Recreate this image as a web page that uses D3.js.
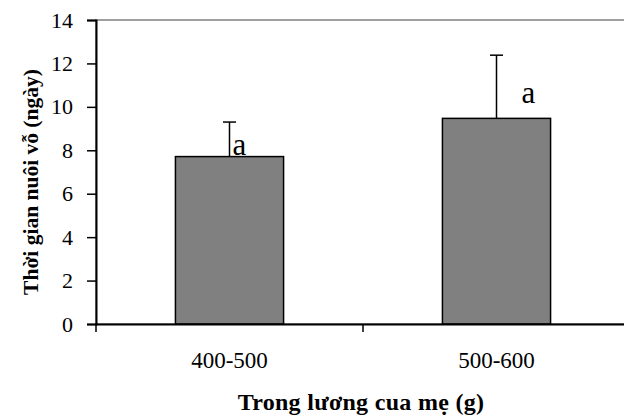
<!DOCTYPE html>
<html>
<head>
<meta charset="utf-8">
<script src="https://cdn.jsdelivr.net/npm/d3@7"></script>
<style>
  body { margin: 0; background: #fff; }
  svg text { font-family: "Liberation Serif", "Times New Roman", serif; fill: #000; }
</style>
</head>
<body>
<div id="chart"></div>
<script>
const categories = ["400-500", "500-600"];
const means = [7.71, 9.47];
const errors = [1.59, 2.91];
const letters = ["a", "a"];
const yTicks = [0, 2, 4, 6, 8, 10, 12, 14];

const margin = { top: 20, right: -6, bottom: 91, left: 96 };
const width = 624 - margin.left - margin.right;
const height = 415 - margin.top - margin.bottom;

const svg = d3.select("#chart")
  .append("svg")
    .attr("width", 624)
    .attr("height", 415)
  .append("g")
    .attr("transform", "translate(" + margin.left + "," + margin.top + ")");

const x = d3.scaleBand()
  .domain(categories)
  .range([0, width])
  .paddingInner(0.595)
  .paddingOuter(0.2975);

const y = d3.scaleLinear()
  .domain([0, 14])
  .range([height, 0]);

// plot frame (grey)
svg.append("rect")
  .attr("x", 0)
  .attr("y", 0)
  .attr("width", width)
  .attr("height", height)
  .attr("fill", "none")
  .attr("stroke", "#808080")
  .attr("stroke-width", 1.5);

// bars
svg.selectAll(".bar")
  .data(means)
  .enter()
  .append("rect")
    .attr("class", "bar")
    .attr("x", (d, i) => x(categories[i]))
    .attr("y", d => y(d))
    .attr("width", x.bandwidth())
    .attr("height", d => height - y(d))
    .attr("fill", "#808080")
    .attr("stroke", "#000")
    .attr("stroke-width", 1.5);

// error bars (upper only)
const cx = i => x(categories[i]) + x.bandwidth() / 2;
svg.selectAll(".err")
  .data(means)
  .enter()
  .append("line")
    .attr("x1", (d, i) => cx(i))
    .attr("x2", (d, i) => cx(i))
    .attr("y1", d => y(d))
    .attr("y2", (d, i) => y(d + errors[i]))
    .attr("stroke", "#000")
    .attr("stroke-width", 1.5);

svg.selectAll(".cap")
  .data(means)
  .enter()
  .append("line")
    .attr("x1", (d, i) => cx(i) - 6.5)
    .attr("x2", (d, i) => cx(i) + 6.5)
    .attr("y1", (d, i) => y(d + errors[i]))
    .attr("y2", (d, i) => y(d + errors[i]))
    .attr("stroke", "#000")
    .attr("stroke-width", 1.5);

// significance letters
const letterPos = [{ dx: 3, v: means[0] }, { dx: 25, v: means[1] + 0.6 }];
svg.selectAll(".letter")
  .data(letters)
  .enter()
  .append("text")
    .attr("x", (d, i) => cx(i) + letterPos[i].dx)
    .attr("y", (d, i) => y(letterPos[i].v) - 2)
    .style("font-size", "31px")
    .text(d => d);

// y axis
const yAxis = svg.append("g")
  .call(d3.axisLeft(y).tickValues(yTicks).tickSize(9).tickPadding(14));
yAxis.select(".domain").attr("stroke", "#000").attr("stroke-width", 2);
yAxis.selectAll(".tick line").attr("stroke", "#000").attr("stroke-width", 1.5);
yAxis.selectAll(".tick text").style("font-size", "22px")
  .attr("font-family", null);

// x axis
const xAxis = svg.append("g")
  .attr("transform", "translate(0," + height + ")")
  .call(d3.axisBottom(x).tickSize(0).tickPadding(28));
xAxis.select(".domain").attr("stroke", "#000").attr("stroke-width", 2);
xAxis.selectAll(".tick text").style("font-size", "23px").attr("font-family", null);

// x axis tick marks at band boundaries
svg.selectAll(".xtick")
  .data([0, 1])
  .enter()
  .append("line")
    .attr("x1", d => x.step() * d)
    .attr("x2", d => x.step() * d)
    .attr("y1", height)
    .attr("y2", height + 8)
    .attr("stroke", "#000")
    .attr("stroke-width", 1.5);

// axis titles
svg.append("text")
  .attr("x", 361 - margin.left)
  .attr("y", 410 - margin.top)
  .attr("text-anchor", "middle")
  .style("font-size", "24px")
  .style("font-weight", "bold")
  .style("letter-spacing", "0.3px")
  .text("Trong lương cua mẹ (g)");

svg.append("text")
  .attr("transform", "rotate(-90)")
  .attr("x", -(182 - margin.top))
  .attr("y", 38 - margin.left)
  .attr("text-anchor", "middle")
  .style("font-size", "21.5px")
  .style("font-weight", "bold")
  .text("Thời gian nuôi vỗ (ngày)");
</script>
</body>
</html>
